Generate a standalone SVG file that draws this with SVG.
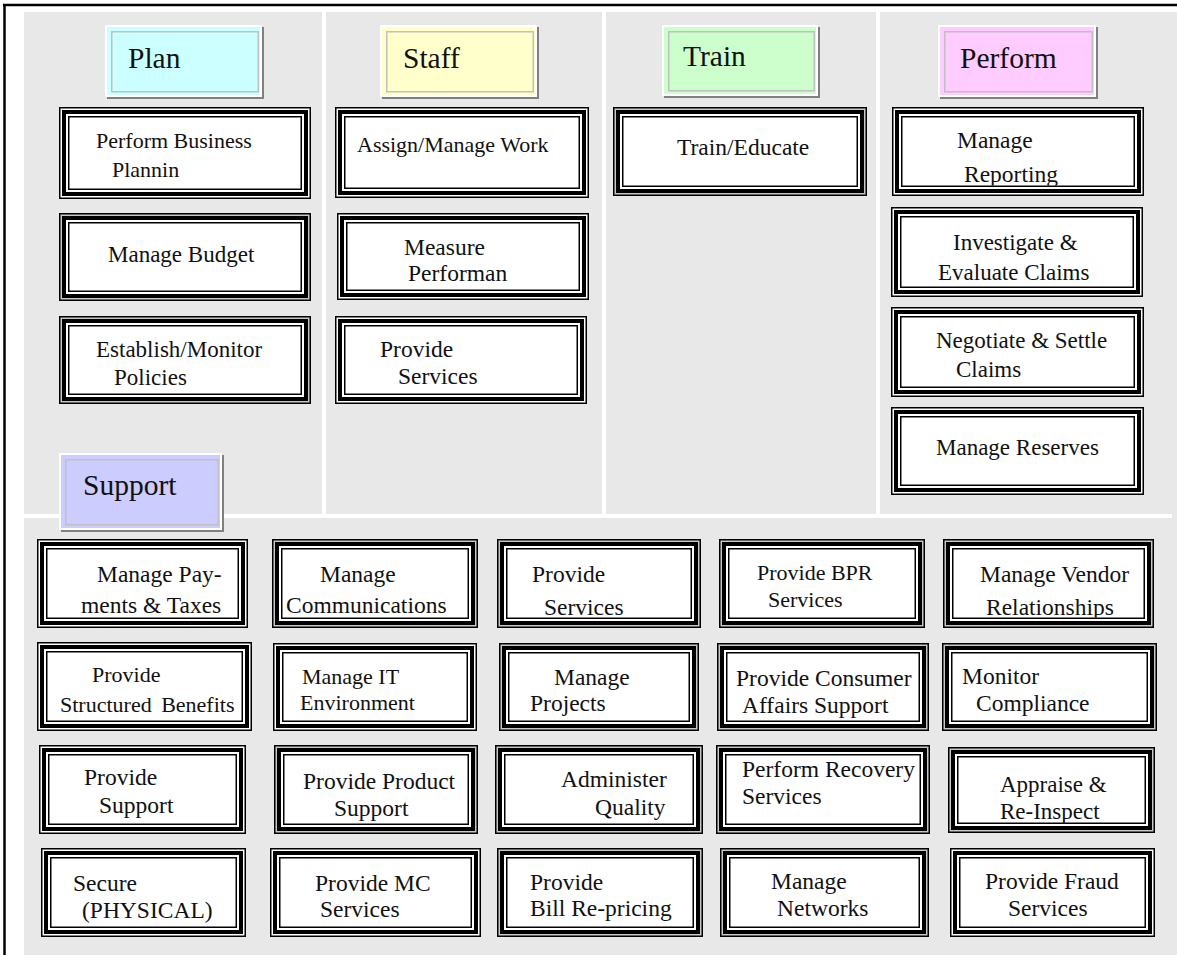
<svg xmlns="http://www.w3.org/2000/svg" width="1177" height="955" viewBox="0 0 1177 955">
<style>
.bg{fill:#e8e8e8}
.sep{fill:#ffffff}
.o{fill:#ffffff;stroke:#000;stroke-width:1.5}
.og{fill:#c8c8c8;stroke:#000;stroke-width:1.5}
.k{fill:#ffffff;stroke:#000;stroke-width:4}
.i{fill:#ffffff;stroke:#000;stroke-width:1.5}
.sh{fill:#808080}
.hb{stroke:#ffffff;stroke-width:2}
.hi{fill:none;stroke:#c0c0c0;stroke-width:1.5}
text{font-family:"Liberation Serif","Times New Roman",serif;font-size:23.5px;fill:#111}
.h{font-size:29.5px}
.s22{font-size:22px}
.s23{font-size:23px}
.s24{font-size:24px}
</style>
<defs>
<clipPath id="cF1"><rect x="902.5" y="117.5" width="231" height="68"/></clipPath>
<clipPath id="cA1"><rect x="47.5" y="549.5" width="190" height="68"/></clipPath>
<clipPath id="cA2"><rect x="282.5" y="549.5" width="185" height="68"/></clipPath>
<clipPath id="cA3"><rect x="507.5" y="549.5" width="183" height="68"/></clipPath>
<clipPath id="cA5"><rect x="953.5" y="549.5" width="190" height="68"/></clipPath>
</defs>
<rect width="1177" height="955" fill="#ffffff"/>
<g id="background">
<rect class="bg" x="24" y="12" width="1153" height="943"/>
<rect class="sep" x="322" y="12" width="4" height="502"/>
<rect class="sep" x="602" y="12" width="4" height="502"/>
<rect class="sep" x="876" y="12" width="4" height="502"/>
<rect class="sep" x="24" y="514" width="1148" height="4"/>
<line x1="4.5" y1="5" x2="4.5" y2="955" stroke="#000" stroke-width="2.5"/>
<line x1="3" y1="5" x2="1177" y2="5" stroke="#000" stroke-width="2.5"/>
</g>

<g id="hdr-plan">
<rect class="sh" x="107" y="27" width="157" height="72"/>
<rect x="106" y="26" width="155" height="70" fill="#ccffff" class="hb"/>
<rect class="hi" x="111.75" y="31.75" width="146.5" height="60"/>
<text class="h" x="128" y="68">Plan</text>
</g>
<g id="hdr-staff">
<rect class="sh" x="382" y="27" width="157" height="72"/>
<rect x="381" y="26" width="155" height="70" fill="#ffffcc" class="hb"/>
<rect class="hi" x="386.75" y="31.75" width="146.5" height="60"/>
<text class="h" x="403" y="68">Staff</text>
</g>
<g id="hdr-train">
<rect class="sh" x="664" y="27" width="156" height="71"/>
<rect x="663" y="26" width="154" height="69" fill="#ccffcc" class="hb"/>
<rect class="hi" x="668.75" y="31.75" width="145.5" height="59"/>
<text class="h" x="683" y="66">Train</text>
</g>
<g id="hdr-perform">
<rect class="sh" x="940" y="27" width="158" height="72"/>
<rect x="939" y="26" width="156" height="70" fill="#ffccff" class="hb"/>
<rect class="hi" x="944.75" y="31.75" width="147.5" height="60"/>
<text class="h" x="960" y="68">Perform</text>
</g>

<g id="P1">
<rect class="o" x="59.75" y="107.75" width="250.5" height="90.5"/>
<rect class="k" x="64" y="112" width="242" height="82"/>
<rect class="i" x="68.75" y="116.75" width="232.5" height="72.5"/>
<text class="s22" x="96" y="148">Perform Business</text>
<text class="s22" x="112" y="177">Plannin</text>
</g>
<g id="P2">
<rect class="og" x="59.75" y="213.75" width="250.5" height="86.5"/>
<rect class="k" x="64" y="218" width="242" height="78"/>
<rect class="i" x="68.75" y="222.75" width="232.5" height="68.5"/>
<text class="s23" x="108" y="262">Manage Budget</text>
</g>
<g id="P3">
<rect class="og" x="59.75" y="316.75" width="250.5" height="86.5"/>
<rect class="k" x="64" y="321" width="242" height="78"/>
<rect class="i" x="68.75" y="325.75" width="232.5" height="68.5"/>
<text class="s23" x="96" y="357">Establish/Monitor</text>
<text class="s23" x="114" y="385">Policies</text>
</g>

<g id="S1">
<rect class="o" x="335.75" y="107.75" width="252.5" height="89.5"/>
<rect class="k" x="340" y="112" width="244" height="81"/>
<rect class="i" x="344.75" y="116.75" width="234.5" height="71.5"/>
<text class="s22" x="357" y="152">Assign/Manage Work</text>
</g>
<g id="S2">
<rect class="o" x="337.75" y="213.75" width="250.5" height="85.5"/>
<rect class="k" x="342" y="218" width="242" height="77"/>
<rect class="i" x="346.75" y="222.75" width="232.5" height="67.5"/>
<text x="404" y="255">Measure</text>
<text x="408" y="281">Performan</text>
</g>
<g id="S3">
<rect class="o" x="335.75" y="316.75" width="250.5" height="86.5"/>
<rect class="k" x="340" y="321" width="242" height="78"/>
<rect class="i" x="344.75" y="325.75" width="232.5" height="68.5"/>
<text x="380" y="357">Provide</text>
<text x="398" y="384">Services</text>
</g>

<g id="T1">
<rect class="og" x="613.75" y="107.75" width="252.5" height="87.5"/>
<rect class="k" x="618" y="112" width="244" height="79"/>
<rect class="i" x="622.75" y="116.75" width="234.5" height="69.5"/>
<text x="677" y="155">Train/Educate</text>
</g>

<g id="F1">
<rect class="o" x="892.75" y="107.75" width="250.5" height="87.5"/>
<rect class="k" x="897" y="112" width="242" height="79"/>
<rect class="i" x="901.75" y="116.75" width="232.5" height="69.5"/>
<g clip-path="url(#cF1)">
<text x="957" y="148">Manage</text>
<text x="964" y="182">Reporting</text>
</g>
</g>
<g id="F2">
<rect class="o" x="891.75" y="207.75" width="250.5" height="88.5"/>
<rect class="k" x="896" y="212" width="242" height="80"/>
<rect class="i" x="900.75" y="216.75" width="232.5" height="70.5"/>
<text class="s23" x="953" y="250">Investigate &amp;</text>
<text class="s23" x="938" y="280">Evaluate Claims</text>
</g>
<g id="F3">
<rect class="o" x="891.75" y="307.75" width="251.5" height="88.5"/>
<rect class="k" x="896" y="312" width="243" height="80"/>
<rect class="i" x="900.75" y="316.75" width="233.5" height="70.5"/>
<text class="s23" x="936" y="348">Negotiate &amp; Settle</text>
<text class="s23" x="956" y="377">Claims</text>
</g>
<g id="F4">
<rect class="o" x="891.75" y="407.75" width="251.5" height="86.5"/>
<rect class="k" x="896" y="412" width="243" height="78"/>
<rect class="i" x="900.75" y="416.75" width="233.5" height="68.5"/>
<text class="s23" x="936" y="455">Manage Reserves</text>
</g>

<g id="hdr-support">
<rect class="sh" x="61" y="455" width="163" height="77"/>
<rect x="60" y="454" width="161" height="75" fill="#ccccff" class="hb"/>
<rect class="hi" x="65.75" y="459.75" width="152.5" height="65"/>
<text class="h" x="83" y="495">Support</text>
</g>

<g id="A1">
<rect class="o" x="37.75" y="539.75" width="209.5" height="87.5"/>
<rect class="k" x="42" y="544" width="201" height="79"/>
<rect class="i" x="46.75" y="548.75" width="191.5" height="69.5"/>
<g clip-path="url(#cA1)">
<text x="97" y="582">Manage Pay-</text>
<text x="81" y="613">ments &amp; Taxes</text>
</g>
</g>
<g id="A2">
<rect class="og" x="272.75" y="539.75" width="204.5" height="87.5"/>
<rect class="k" x="277" y="544" width="196" height="79"/>
<rect class="i" x="281.75" y="548.75" width="186.5" height="69.5"/>
<g clip-path="url(#cA2)">
<text x="320" y="582">Manage</text>
<text x="286" y="613">Communications</text>
</g>
</g>
<g id="A3">
<rect class="og" x="497.75" y="539.75" width="202.5" height="87.5"/>
<rect class="k" x="502" y="544" width="194" height="79"/>
<rect class="i" x="506.75" y="548.75" width="184.5" height="69.5"/>
<g clip-path="url(#cA3)">
<text x="532" y="582">Provide</text>
<text x="544" y="615">Services</text>
</g>
</g>
<g id="A4">
<rect class="og" x="719.75" y="539.75" width="204.5" height="87.5"/>
<rect class="k" x="724" y="544" width="196" height="79"/>
<rect class="i" x="728.75" y="548.75" width="186.5" height="69.5"/>
<text class="s22" x="757" y="580">Provide BPR</text>
<text class="s22" x="768" y="607">Services</text>
</g>
<g id="A5">
<rect class="og" x="943.75" y="539.75" width="209.5" height="87.5"/>
<rect class="k" x="948" y="544" width="201" height="79"/>
<rect class="i" x="952.75" y="548.75" width="191.5" height="69.5"/>
<g clip-path="url(#cA5)">
<text x="980" y="582">Manage Vendor</text>
<text x="986" y="615">Relationships</text>
</g>
</g>

<g id="B1">
<rect class="o" x="37.75" y="642.75" width="213.5" height="87.5"/>
<rect class="k" x="42" y="647" width="205" height="79"/>
<rect class="i" x="46.75" y="651.75" width="195.5" height="69.5"/>
<text class="s22" x="92" y="682">Provide</text>
<text class="s22" x="60" y="712" word-spacing="4">Structured Benefits</text>
</g>
<g id="B2">
<rect class="o" x="273.75" y="643.75" width="202.5" height="86.5"/>
<rect class="k" x="278" y="648" width="194" height="78"/>
<rect class="i" x="282.75" y="652.75" width="184.5" height="68.5"/>
<text class="s22" x="302" y="684">Manage IT</text>
<text class="s22" x="300" y="710">Environment</text>
</g>
<g id="B3">
<rect class="og" x="499.75" y="643.75" width="198.5" height="86.5"/>
<rect class="k" x="504" y="648" width="190" height="78"/>
<rect class="i" x="508.75" y="652.75" width="180.5" height="68.5"/>
<text x="554" y="685">Manage</text>
<text x="530" y="711">Projects</text>
</g>
<g id="B4">
<rect class="og" x="717.75" y="643.75" width="210.5" height="86.5"/>
<rect class="k" x="722" y="648" width="202" height="78"/>
<rect class="i" x="726.75" y="652.75" width="192.5" height="68.5"/>
<text x="736" y="686">Provide Consumer</text>
<text x="742" y="713">Affairs Support</text>
</g>
<g id="B5">
<rect class="og" x="942.75" y="643.75" width="213.5" height="86.5"/>
<rect class="k" x="947" y="648" width="205" height="78"/>
<rect class="i" x="951.75" y="652.75" width="195.5" height="68.5"/>
<text x="962" y="684">Monitor</text>
<text x="976" y="711">Compliance</text>
</g>

<g id="C1">
<rect class="o" x="39.75" y="745.75" width="205.5" height="87.5"/>
<rect class="k" x="44" y="750" width="197" height="79"/>
<rect class="i" x="48.75" y="754.75" width="187.5" height="69.5"/>
<text x="84" y="785">Provide</text>
<text x="99" y="813">Support</text>
</g>
<g id="C2">
<rect class="og" x="274.75" y="745.75" width="202.5" height="87.5"/>
<rect class="k" x="279" y="750" width="194" height="79"/>
<rect class="i" x="283.75" y="754.75" width="184.5" height="69.5"/>
<text x="303" y="789">Provide Product</text>
<text x="334" y="816">Support</text>
</g>
<g id="C3">
<rect class="og" x="495.75" y="745.75" width="206.5" height="87.5"/>
<rect class="k" x="500" y="750" width="198" height="79"/>
<rect class="i" x="504.75" y="754.75" width="188.5" height="69.5"/>
<text x="561" y="787">Administer</text>
<text x="595" y="815">Quality</text>
</g>
<g id="C4">
<rect class="og" x="716.75" y="745.75" width="212.5" height="87.5"/>
<rect class="k" x="721" y="750" width="204" height="79"/>
<rect class="i" x="725.75" y="754.75" width="194.5" height="69.5"/>
<text x="742" y="777">Perform Recovery</text>
<text x="742" y="804">Services</text>
</g>
<g id="C5">
<rect class="og" x="948.75" y="747.75" width="205.5" height="84.5"/>
<rect class="k" x="953" y="752" width="197" height="76"/>
<rect class="i" x="957.75" y="756.75" width="187.5" height="66.5"/>
<text class="s23" x="1000" y="792">Appraise &amp;</text>
<text class="s23" x="1000" y="819">Re-Inspect</text>
</g>

<g id="D1">
<rect class="o" x="41.75" y="848.75" width="203.5" height="87.5"/>
<rect class="k" x="46" y="853" width="195" height="79"/>
<rect class="i" x="50.75" y="857.75" width="185.5" height="69.5"/>
<text x="73" y="891">Secure</text>
<text x="82" y="918">(PHYSICAL)</text>
</g>
<g id="D2">
<rect class="o" x="270.75" y="848.75" width="209.5" height="87.5"/>
<rect class="k" x="275" y="853" width="201" height="79"/>
<rect class="i" x="279.75" y="857.75" width="191.5" height="69.5"/>
<text x="315" y="891">Provide MC</text>
<text x="320" y="917">Services</text>
</g>
<g id="D3">
<rect class="og" x="497.75" y="848.75" width="204.5" height="87.5"/>
<rect class="k" x="502" y="853" width="196" height="79"/>
<rect class="i" x="506.75" y="857.75" width="186.5" height="69.5"/>
<text x="530" y="890">Provide</text>
<text x="530" y="916">Bill Re-pricing</text>
</g>
<g id="D4">
<rect class="og" x="720.75" y="848.75" width="207.5" height="87.5"/>
<rect class="k" x="725" y="853" width="199" height="79"/>
<rect class="i" x="729.75" y="857.75" width="189.5" height="69.5"/>
<text x="771" y="889">Manage</text>
<text x="777" y="916">Networks</text>
</g>
<g id="D5">
<rect class="o" x="950.75" y="848.75" width="203.5" height="87.5"/>
<rect class="k" x="955" y="853" width="195" height="79"/>
<rect class="i" x="959.75" y="857.75" width="185.5" height="69.5"/>
<text x="985" y="889">Provide Fraud</text>
<text x="1008" y="916">Services</text>
</g>
<g id="connectors"></g>
</svg>
